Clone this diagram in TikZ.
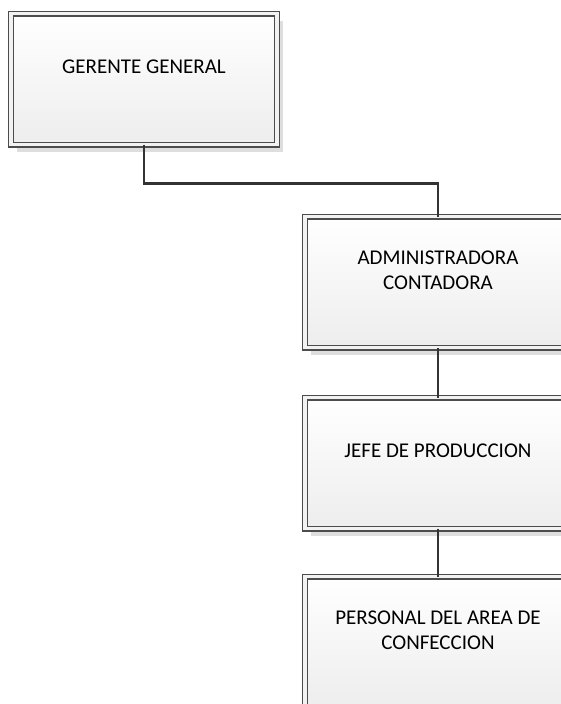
\documentclass[tikz,border=0pt]{standalone}
\usepackage{fontspec}
\setmainfont{Carlito}
\usepackage{tikz}
\usetikzlibrary{positioning,shadows}

\begin{document}
\begin{tikzpicture}[x=1pt, y=1pt, line width=1pt]
	\tikzstyle{cargo}=[rectangle, draw=black!70, double=black!5, double distance=3.8pt, line width=1.1pt,
		top color=white, bottom color=black!7, minimum width=266pt, minimum height=131pt,
		inner sep=0pt, outer sep=0pt, align=center, text depth=24pt,
		font=\fontsize{21}{25.5}\selectfont,
		drop shadow={shadow xshift=6pt, shadow yshift=-7pt, fill=black!13, opacity=1}]
	\tikzstyle{linea}=[draw=black!80, line width=2.2pt]
	\useasboundingbox (0,0) rectangle (561,-704);
	\node[cargo] (gg) at (144,-79) {GERENTE GENERAL};
	\node[cargo, below right=72pt and 28pt of gg] (ac) {ADMINISTRADORA\\CONTADORA};
	\node[cargo, below=50pt of ac] (jp) {JEFE DE PRODUCCION};
	\node[cargo, below=48pt of jp] (pc) {PERSONAL DEL AREA DE\\CONFECCION};
	\draw[linea] (gg.south) -- ++(0,-39) -| (ac.north);
	\draw[linea] (ac.south) -- (jp.north);
	\draw[linea] (jp.south) -- (pc.north);
\end{tikzpicture}
\end{document}
